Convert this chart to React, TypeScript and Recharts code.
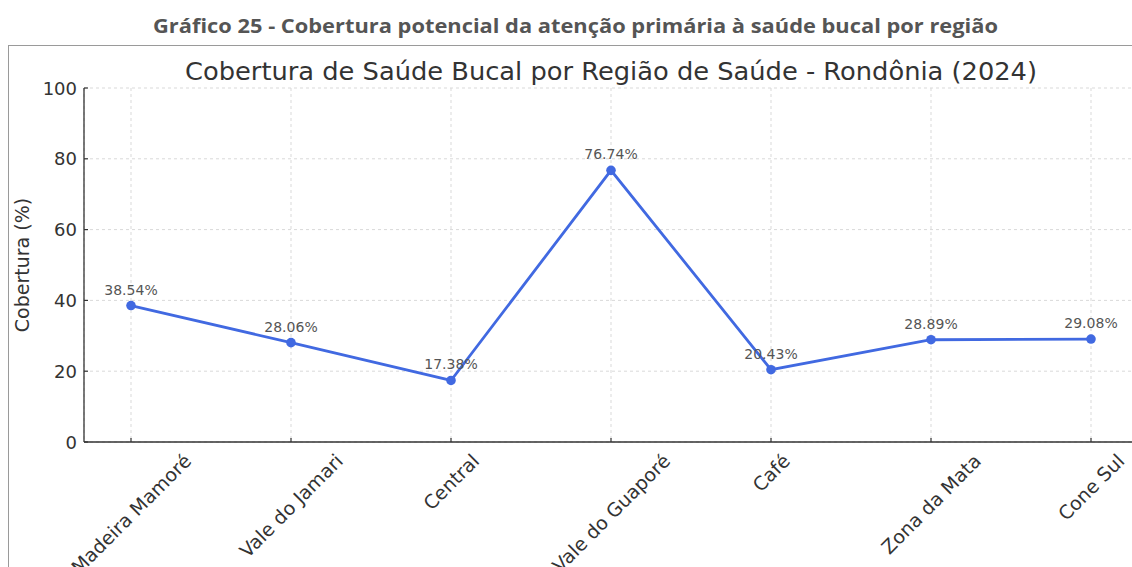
import { LineChart, Line, XAxis, YAxis, CartesianGrid, LabelList } from 'recharts'

const REGIONS = ['Madeira Mamoré', 'Vale do Jamari', 'Central', 'Vale do Guaporé', 'Café', 'Zona da Mata', 'Cone Sul']
const COVERAGE = [38.54, 28.06, 17.38, 76.74, 20.43, 28.89, 29.08]
const Y_TICKS = [0, 20, 40, 60, 80, 100]

const data = REGIONS.map((region, i) => ({ region, cobertura: COVERAGE[i] }))

const FONT = 'DejaVu Sans, sans-serif'
const TICK_FS = 18
const XLABEL_FS = 19

let ctx: CanvasRenderingContext2D | null = null
function measure(text: string) {
  if (!ctx) ctx = document.createElement('canvas').getContext('2d')
  if (!ctx) return text.length * XLABEL_FS * 0.6
  ctx.font = `${XLABEL_FS}px DejaVu Sans`
  return ctx.measureText(text).width
}

// matplotlib-style rotated label: rotation 45, ha center, top aligned
function XTick(props: any) {
  const { x, y, payload } = props
  const w = measure(payload.value)
  const side = (w + XLABEL_FS * 1.1) / Math.SQRT2
  const cy = y + 8 + side / 2
  return (
    <g>
      <line x1={x} y1={y} x2={x} y2={y - 4} stroke="#333" strokeWidth={1.2} />
      <text
        x={x}
        y={cy}
        textAnchor="middle"
        dominantBaseline="central"
        fontSize={XLABEL_FS}
        fontFamily={FONT}
        fill="#333"
        transform={`rotate(-45, ${x}, ${cy})`}
      >
        {payload.value}
      </text>
    </g>
  )
}

function YTick(props: any) {
  const { y, payload } = props
  return (
    <g>
      <line x1={84} y1={y} x2={88} y2={y} stroke="#333" strokeWidth={1.2} />
      <text x={77} y={y} textAnchor="end" dominantBaseline="central" fontSize={TICK_FS} fontFamily={FONT} fill="#333">
        {payload.value}
      </text>
    </g>
  )
}

function PointLabel(props: any) {
  const { x, y, value } = props
  return (
    <text x={x} y={y - 11} textAnchor="middle" fontSize={14} fontFamily={FONT} fill="#555">
      {`${Number(value).toFixed(2)}%`}
    </text>
  )
}

export default function App() {
  return (
    <div style={{ position: 'absolute', left: 0, top: 0, width: 1132, height: 567, overflow: 'hidden', background: '#fff' }}>
      <div style={{ position: 'absolute', left: 0, top: 0 }}>
        <LineChart width={1140} height={567} data={data} margin={{ top: 88, right: 2, left: 0, bottom: 0 }}>
          <CartesianGrid strokeDasharray="3 3" stroke="#d9d9d9" />
          <XAxis
            dataKey="region"
            type="category"
            scale="point"
            padding={{ left: 47, right: 47 }}
            height={125}
            tickLine={false}
            tickSize={0}
            tickMargin={0}
            interval={0}
            tick={<XTick />}
            axisLine={{ stroke: '#333', strokeWidth: 1.3 }}
          />
          <YAxis
            type="number"
            domain={[0, 100]}
            ticks={Y_TICKS}
            width={84}
            tickLine={false}
            tick={<YTick />}
            axisLine={{ stroke: '#333', strokeWidth: 1.3 }}
          />
          <Line
            type="linear"
            dataKey="cobertura"
            stroke="#4169E1"
            strokeWidth={2.8}
            dot={{ r: 4.8, fill: '#4169E1', stroke: '#4169E1', strokeWidth: 0 }}
            isAnimationActive={false}
          >
            <LabelList dataKey="cobertura" content={<PointLabel />} />
          </Line>
        </LineChart>
      </div>
      <svg width={1132} height={567} style={{ position: 'absolute', left: 0, top: 0, pointerEvents: 'none' }}>
        <rect x={8.5} y={45.5} width={1200} height={600} fill="none" stroke="#9a9a9a" strokeWidth={1} />
        <text
          x={575.5}
          y={33}
          textAnchor="middle"
          fontSize={20}
          fontWeight="bold"
          fontFamily="Open Sans, sans-serif"
          fill="#555"
          textLength={845}
          lengthAdjust="spacingAndGlyphs"
        >
          Gráfico 25 - Cobertura potencial da atenção primária à saúde bucal por região
        </text>
        <text x={611} y={80} textAnchor="middle" fontSize={24} fontFamily={FONT} fill="#333" textLength={852} lengthAdjust="spacingAndGlyphs">
          Cobertura de Saúde Bucal por Região de Saúde - Rondônia (2024)
        </text>
        <text x={29} y={265} textAnchor="middle" fontSize={19} fontFamily={FONT} fill="#333" transform="rotate(-90, 29, 265)">
          Cobertura (%)
        </text>
      </svg>
    </div>
  )
}
